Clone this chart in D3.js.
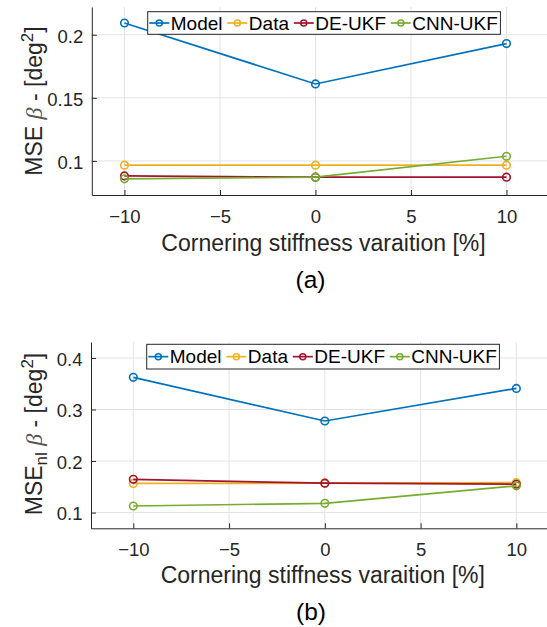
<!DOCTYPE html>
<html><head><meta charset="utf-8">
<script src="https://cdn.jsdelivr.net/npm/d3@7"></script>
<style>body{margin:0;background:#fff}svg{display:block}</style>
</head><body>
<svg id="c" width="547" height="627"></svg>
<script>
const xVals = [-10, 0, 10];
const xTicks = [-10, -5, 0, 5, 10];
const seriesNames = ["Model", "Data", "DE-UKF", "CNN-UKF"];
const seriesColors = ["#0072BD", "#EDB120", "#A2142F", "#77AC30"];
// panel (a): MSE beta
const aModel = [0.2093, 0.161, 0.193];
const aData = [0.0966, 0.0966, 0.0966];
const aDE = [0.0881, 0.0871, 0.0871];
const aCNN = [0.0858, 0.0871, 0.1037];
const aTicks = [0.1, 0.15, 0.2];
// panel (b): MSE_nl beta
const bModel = [0.3625, 0.2777, 0.341];
const bData = [0.1565, 0.157, 0.158];
const bDE = [0.1645, 0.157, 0.155];
const bCNN = [0.1128, 0.118, 0.152];
const bTicks = [0.1, 0.2, 0.3, 0.4];

const FONT = "'Liberation Sans', Arial, Helvetica, sans-serif";
const AX = "#262626";
const GRID = "#e3e3e3";
const svg = d3.select("#c");

function panel(o) {
  const g = svg.append("g");
  const x = d3.scaleLinear().domain(o.xDom).range([o.left, o.right]);
  const y = d3.scaleLinear().domain(o.yDom).range([o.bottom, o.top]);
  // grid
  g.selectAll(".gx").data(xTicks).join("line")
    .attr("x1", d => x(d)).attr("x2", d => x(d)).attr("y1", o.top).attr("y2", o.bottom)
    .attr("stroke", GRID).attr("stroke-width", 1);
  g.selectAll(".gy").data(o.yTicks).join("line")
    .attr("y1", d => y(d)).attr("y2", d => y(d)).attr("x1", o.left).attr("x2", o.right)
    .attr("stroke", GRID).attr("stroke-width", 1);
  // axes
  const xa = g.append("g").attr("transform", `translate(0,${o.bottom})`)
    .call(d3.axisBottom(x).tickValues(xTicks).tickSizeInner(-5).tickSizeOuter(0)
      .tickFormat(d => d < 0 ? "\u2212" + Math.abs(d) : String(d)));
  xa.select(".domain").attr("stroke", AX);
  xa.selectAll(".tick line").attr("stroke", AX);
  xa.selectAll(".tick text").attr("y", o.xTickY).attr("dy", 0)
    .attr("font-family", FONT).attr("font-size", 18.5).attr("fill", AX);
  const ya = g.append("g").attr("transform", `translate(${o.left},0)`)
    .call(d3.axisLeft(y).tickValues(o.yTicks).tickSizeInner(-5).tickSizeOuter(0)
      .tickFormat(d => String(+d.toFixed(3))));
  ya.select(".domain").attr("stroke", AX);
  ya.selectAll(".tick line").attr("stroke", AX);
  ya.selectAll(".tick text").attr("x", -8.5).attr("dy", "0.4em")
    .attr("font-family", FONT).attr("font-size", 18.5).attr("fill", AX);
  // lines
  const line = d3.line().x((d, i) => x(xVals[i])).y(d => y(d));
  o.series.forEach((s, k) => {
    g.append("path").datum(s).attr("d", line).attr("fill", "none")
      .attr("stroke", seriesColors[k]).attr("stroke-width", 1.7);
    g.selectAll(null).data(s).join("circle")
      .attr("cx", (d, i) => x(xVals[i])).attr("cy", d => y(d)).attr("r", 3.8)
      .attr("fill", "none").attr("stroke", seriesColors[k]).attr("stroke-width", 1.6);
  });
  // legend
  const lg = g.append("g");
  const box = lg.append("rect").attr("x", o.legX).attr("y", o.legY)
    .attr("height", o.legH).attr("fill", "#fff").attr("stroke", AX).attr("stroke-width", 1);
  let cx = o.legX + 1.6;
  const cy = o.legY + o.legH / 2;
  seriesNames.forEach((n, k) => {
    lg.append("line").attr("x1", cx).attr("x2", cx + 20).attr("y1", cy).attr("y2", cy)
      .attr("stroke", seriesColors[k]).attr("stroke-width", 1.7);
    lg.append("circle").attr("cx", cx + 10).attr("cy", cy).attr("r", 3)
      .attr("fill", "none").attr("stroke", seriesColors[k]).attr("stroke-width", 1.5);
    const t = lg.append("text").attr("x", cx + 21.5).attr("y", cy + 6.8)
      .attr("font-family", FONT).attr("font-size", 19).attr("fill", "#000").text(n);
    cx += 21.5 + t.node().getComputedTextLength() + 4.8;
  });
  box.attr("width", cx - 4.8 + 2.6 - o.legX);
  // x label
  svg.append("text").attr("x", o.xLabX).attr("y", o.xLabY).attr("text-anchor", "middle")
    .attr("font-family", FONT).attr("font-size", 23).attr("fill", AX)
    .text("Cornering stiffness varaition [%]");
  svg.append("text").attr("x", o.capX).attr("y", o.capY).attr("text-anchor", "middle")
    .attr("font-family", FONT).attr("font-size", 24.5).attr("fill", "#000").text(o.cap);
  // y label
  const yl = svg.append("text").attr("transform", `translate(41.5,${o.yLabC}) rotate(-90)`)
    .attr("text-anchor", "middle").attr("font-family", FONT).attr("font-size", 23).attr("fill", AX);
  yl.append("tspan").text("MSE");
  if (o.sub) {
    yl.append("tspan").attr("font-size", 17).attr("dy", 5).text("nl");
    yl.append("tspan").attr("dy", -5).text(" ");
  } else {
    yl.append("tspan").text(" ");
  }
  yl.append("tspan").attr("font-family", "'Liberation Serif', 'DejaVu Serif', serif").attr("font-style", "italic")
    .attr("font-size", 24).attr("fill", "#555").text("\u03B2");
  yl.append("tspan").text(" - [deg");
  yl.append("tspan").attr("font-size", 17).attr("dy", -9).text("2");
  yl.append("tspan").attr("dy", 9).text("]");
}

panel({
  left: 91.8, right: 547, top: 7, bottom: 195,
  xDom: [-11.71, 12.12], yDom: [0.073, 0.222], yTicks: aTicks,
  series: [aModel, aData, aDE, aCNN],
  xTickY: 28, xLabX: 323.5, xLabY: 251, capX: 310.5, capY: 287.5, cap: "(a)",
  legX: 147.7, legY: 11.7, legH: 22.6, sub: false, yLabC: 101
});
panel({
  left: 91, right: 547, top: 342, bottom: 528.3,
  xDom: [-12.21, 11.6], yDom: [0.0695, 0.431], yTicks: bTicks,
  series: [bModel, bData, bDE, bCNN],
  xTickY: 28, xLabX: 322.8, xLabY: 583, capX: 311, capY: 620, cap: "(b)",
  legX: 146.7, legY: 344.3, legH: 24.7, sub: true, yLabC: 434
});
</script>
</body></html>
